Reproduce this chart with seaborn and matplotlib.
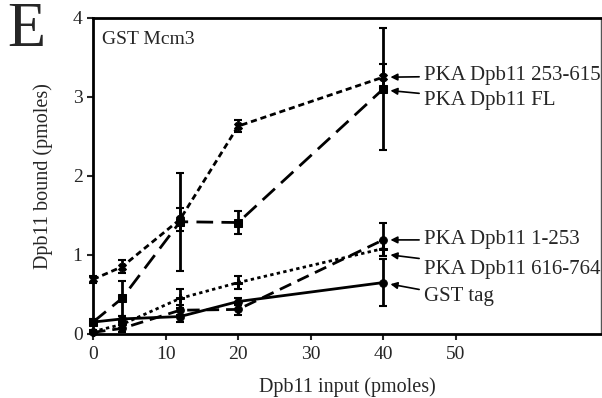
import matplotlib
matplotlib.use("Agg")
import matplotlib.pyplot as plt
import seaborn as sns

# Data
dpb11_input = [0, 4, 12, 20, 40]

labels = ["PKA Dpb11 253-615", "PKA Dpb11 FL", "PKA Dpb11 1-253",
          "PKA Dpb11 616-764", "GST tag"]
bound_253_615 = [0.69, 0.85, 1.45, 2.63, 3.25]
err_253_615 = [0.04, 0.08, 0.15, 0.08, 0.17]
bound_fl = [0.15, 0.45, 1.42, 1.41, 3.10]
err_fl = [0.03, 0.22, 0.62, 0.15, 0.77]
bound_1_253 = [0.02, 0.07, 0.30, 0.31, 1.19]
err_1_253 = [0.02, 0.04, 0.06, 0.07, 0.21]
bound_616_764 = [0.03, 0.12, 0.45, 0.65, 1.08]
err_616_764 = [0.02, 0.04, 0.12, 0.08, 0.10]
bound_gst = [0.15, 0.19, 0.22, 0.41, 0.65]
err_gst = [0.04, 0.04, 0.07, 0.04, 0.30]

series = [bound_253_615, bound_fl, bound_1_253, bound_616_764, bound_gst]
errors = [err_253_615, err_fl, err_1_253, err_616_764, err_gst]
styles = [(0, (2.2, 1.4)), (0, (6, 3)), (0, (4.5, 2.5)), (0, (1.2, 1.2)), "-"]
markers = ["X", "s", "o", "P", "o"]
label_y = [3.27, 2.96, 1.19, 0.81, 0.47]
arrow_y = [3.25, 3.08, 1.19, 1.0, 0.63]

sns.set_style("ticks")
plt.rcParams["font.family"] = ["Liberation Serif", "DejaVu Serif"]

fig = plt.figure(figsize=(6.02, 3.98), dpi=100)
ax = fig.add_axes([0.1545, 0.161, 0.8435, 0.794])

for ys, es, ls, mk in zip(series, errors, styles, markers):
    sns.lineplot(x=dpb11_input, y=ys, ax=ax, color="black", linewidth=2,
                 linestyle=ls, marker=mk, markersize=5.5, markeredgecolor="black",
                 clip_on=False, zorder=3)
    ax.errorbar(dpb11_input, ys, yerr=es, fmt="none", ecolor="black",
                elinewidth=2, capsize=3, capthick=1.5, clip_on=False, zorder=3)

for lab, ty, ay in zip(labels, label_y, arrow_y):
    ax.annotate(lab, xy=(41.0, ay), xytext=(45.6, ty), fontsize=15,
                va="center", ha="left",
                arrowprops=dict(arrowstyle="-|>", color="black", lw=1.2,
                                mutation_scale=10, shrinkA=1, shrinkB=0))

ax.set_xlim(0, 70)
ax.set_ylim(0, 4)
ax.set_xticks([0, 10, 20, 30, 40, 50])
ax.set_yticks([0, 1, 2, 3, 4])
ax.tick_params(labelsize=14, length=4, width=1.5, direction="out")
ax.tick_params(axis="x", pad=5)
for side in ["left", "bottom", "top"]:
    ax.spines[side].set_linewidth(2)
    ax.spines[side].set_color("black")
ax.spines["right"].set_linewidth(1)
ax.spines["right"].set_color("#555555")

ax.set_xlabel("Dpb11 input (pmoles)", fontsize=14.5, labelpad=10)
ax.set_ylabel("Dpb11 bound (pmoles)", fontsize=14.5, labelpad=14)
ax.text(0.018, 0.96, "GST Mcm3", transform=ax.transAxes, fontsize=14,
        va="top", ha="left")
fig.text(0.012, 0.995, "E", fontsize=45, va="top", ha="left")

fig.savefig("out.png", dpi=100)
